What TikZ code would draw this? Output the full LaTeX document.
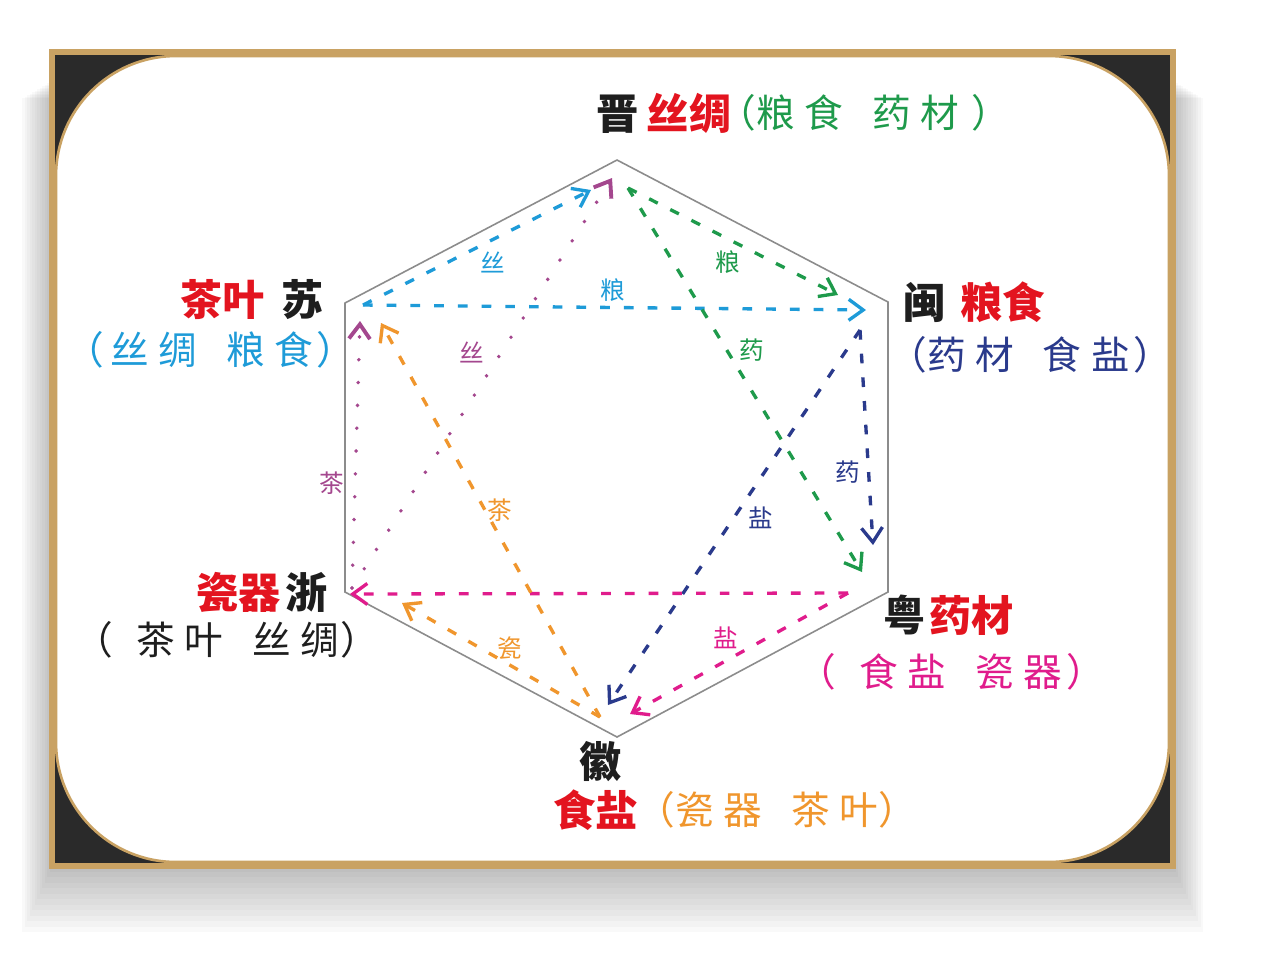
\documentclass[tikz,border=0pt]{standalone}
\usepackage{fontspec}
\setmainfont{Noto Sans CJK SC}
\usetikzlibrary{positioning, arrows.meta}

\definecolor{goldline}{HTML}{C9A263}
\definecolor{framedark}{HTML}{2A2A2A}
\definecolor{hexgray}{HTML}{8C8C8C}
\definecolor{goodred}{HTML}{E3141F}
\definecolor{inkblack}{HTML}{1E1E1E}
\definecolor{jingreen}{HTML}{1E9A4B}
\definecolor{sublue}{HTML}{1E9BD8}
\definecolor{minnavy}{HTML}{2A3A8C}
\definecolor{yuepink}{HTML}{E01C8C}
\definecolor{huiorange}{HTML}{F0962D}
\definecolor{zhepurple}{HTML}{A4478E}

\newcommand{\cgap}{\kern.25em}
\newcommand{\wgap}{\kern.75em}

\begin{document}
\begin{tikzpicture}[
    x=0.02cm, y=-0.02cm,
    >={Straight Barb[length=2.9mm,width=4.2mm]},
    big/.style={font=\fontsize{24}{28}\selectfont\bfseries, inner sep=0pt},
    sub/.style={font=\fontsize{22}{26}\selectfont, inner sep=0pt},
    tag/.style={font=\fontsize{14}{16}\selectfont, inner sep=0pt},
    trade/.style={->, line width=1.9pt, dash pattern=on 5.5pt off 8pt},
    dots/.style={->, line width=2.2pt, line cap=round, dash pattern=on 0pt off 13pt}
]
    \useasboundingbox (0,0) rectangle (1280,975);

    % Shadow and frame
    \foreach \k in {1,...,12}
        \fill[black, opacity=0.022] (52-\k*2.5, 80+\k*1.5) rectangle (1173+\k*2.5, 866+\k*5.5);
    \fill[framedark] (52,52) rectangle (1173,866);
    \fill[white, draw=goldline, line width=1.5pt, rounded corners=2.4cm] (56,56) rectangle (1169,862);
    \draw[goldline, line width=3.5pt] (52,52) rectangle (1173,866);

    % Hexagon
    \coordinate (vjin) at (617,160);
    \coordinate (vmin) at (888,302);
    \coordinate (vyue) at (888,592);
    \coordinate (vhui) at (617,737);
    \coordinate (vzhe) at (345,592);
    \coordinate (vsu)  at (345,303);
    \draw[hexgray, line width=0.9pt] (vjin) -- (vmin) -- (vyue) -- (vhui) -- (vzhe) -- (vsu) -- cycle;

    % Arrow ends
    \coordinate (suA)   at (363,305);
    \coordinate (jinA)  at (628,188);
    \coordinate (minA)  at (860,330);
    \coordinate (yueA)  at (848,593);
    \coordinate (huiA)  at (600,717);
    \coordinate (zheA)  at (352,588);
    \coordinate (jinB1) at (591,190);
    \coordinate (minB1) at (866,310);
    \coordinate (minB2) at (838,295);
    \coordinate (yueB1) at (862,572);
    \coordinate (yueB2) at (873,545);
    \coordinate (huiB1) at (608,705);
    \coordinate (zheB1) at (350,594);
    \coordinate (huiB2) at (630,714);
    \coordinate (zheB2) at (402,603);
    \coordinate (suB1)  at (381,323);
    \coordinate (suB2)  at (360,321);
    \coordinate (jinB2) at (612,178);

    % Trade routes
    \draw[trade, sublue] (suA) -- (jinB1);
    \draw[trade, sublue] (suA) -- (minB1);
    \draw[trade, jingreen] (jinA) -- (minB2);
    \draw[trade, jingreen] (jinA) -- (yueB1);
    \draw[trade, minnavy] (minA) -- (yueB2);
    \draw[trade, minnavy] (minA) -- (huiB1);
    \draw[trade, yuepink] (yueA) -- (zheB1);
    \draw[trade, yuepink] (yueA) -- (huiB2);
    \draw[trade, huiorange] (huiA) -- (zheB2);
    \draw[trade, huiorange] (huiA) -- (suB1);
    \draw[dots, zhepurple] (zheA) -- (suB2);
    \draw[dots, zhepurple] (zheA) -- (jinB2);

    % Route labels
    \node[tag, sublue] (lsi1) at (493,262) {丝};
    \node[tag, sublue] (lliang1) at (613,290) {粮};
    \node[tag, jingreen] (lliang2) at (728,262) {粮};
    \node[tag, jingreen] (lyao1) at (752,350) {药};
    \node[tag, minnavy] (lyao2) at (848,472) {药};
    \node[tag, minnavy] (lyan1) at (761,518) {盐};
    \node[tag, yuepink] (lyan2) at (726,638) {盐};
    \node[tag, huiorange] (lci) at (510,648) {瓷};
    \node[tag, huiorange] (lcha1) at (500,510) {茶};
    \node[tag, zhepurple] (lcha2) at (332,483) {茶};
    \node[tag, zhepurple] (lsi2) at (472,352) {丝};

    % Provinces
    \node[big, anchor=west] (jin) at (596,113) {\color{inkblack}晋\kern.2em\color{goodred}丝绸};
    \node[sub, jingreen, right=-8pt of jin] (jingoods) {（粮\cgap{}食\wgap{}药\cgap{}材\kern.3em）};
    \node[big, anchor=east] (su) at (324,300) {\color{goodred}茶叶\kern.4em\color{inkblack}苏};
    \node[sub, sublue, anchor=east] (sugoods) at (356,350) {（\kern.15em{}丝\cgap{}绸\wgap{}粮\cgap{}食\kern.1em）};
    \node[big, anchor=west] (min) at (903,302) {\color{inkblack}闽\kern.35em\color{goodred}粮食};
    \node[sub, minnavy, anchor=west] (mingoods) at (888,355) {（药\cgap{}材\wgap{}食\cgap{}盐\kern.1em）};
    \node[big, anchor=east] (zhe) at (328,592) {\color{goodred}瓷器\kern.12em\color{inkblack}浙};
    \node[sub, inkblack, anchor=east] (zhegoods) at (380,640) {（\kern.6em{}茶\cgap{}叶\wgap{}丝\cgap{}绸\kern.05em）};
    \node[big, anchor=west] (yue) at (883,615) {\color{inkblack}粤\kern.1em\color{goodred}药材};
    \node[sub, yuepink, anchor=west] (yuegoods) at (797,672) {（\kern.6em{}食\cgap{}盐\wgap{}瓷\cgap{}器\kern.1em）};
    \node[big, inkblack] (hui) at (601,762) {徽};
    \node[big, goodred, anchor=west] (huired) at (553,810) {食盐};
    \node[sub, huiorange, right=-1pt of huired] (huigoods) {（瓷\cgap{}器\wgap{}茶\cgap{}叶）};

\end{tikzpicture}
\end{document}
